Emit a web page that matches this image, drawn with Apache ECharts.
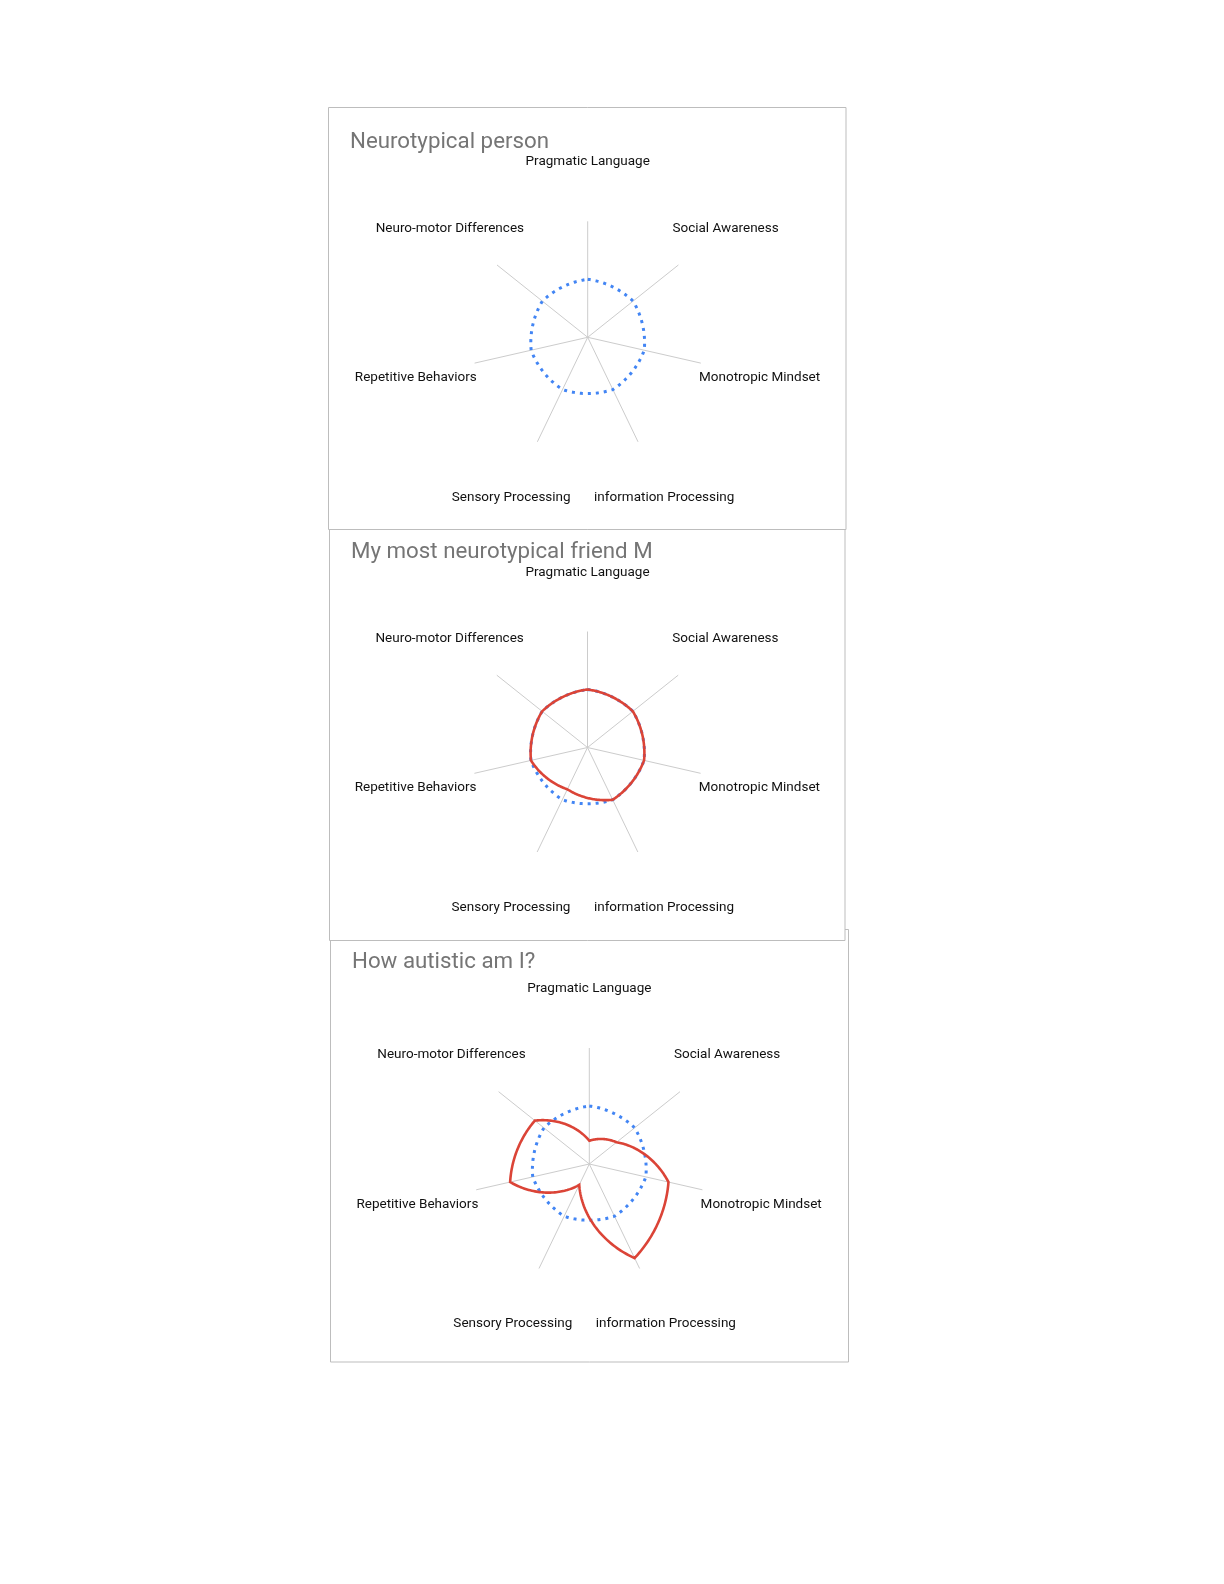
<!DOCTYPE html>
<html>
<head>
<meta charset="utf-8">
<script src="https://cdn.jsdelivr.net/npm/echarts@6/dist/echarts.min.js"></script>
<style>
html,body{margin:0;padding:0;background:#ffffff;}
#chart{width:1224px;height:1584px;}
</style>
</head>
<body>
<div id="chart"></div>
<script>
// ---- data ----
const categories = [
  'Pragmatic Language',
  'Social Awareness',
  'Monotropic Mindset',
  'information Processing',
  'Sensory Processing',
  'Repetitive Behaviors',
  'Neuro-motor Differences'
];
const chartTitles = ['Neurotypical person', 'My most neurotypical friend M', 'How autistic am I?'];
const neurotypicalValues = [5, 5, 5, 5, 5, 5, 5];
const friendMValues = [5, 5, 5, 5, 4, 5, 5];
const myValues = [2, 3, 7, 9, 2, 7, 6];
const scaleMax = 10;

// ---- layout / style ----
const BLUE = '#4285F4';
const RED = '#DB4437';
const panels = [
  { box: [328.5, 107.5, 517.5, 422], center: [587.7, 337.3], title: [350, 131.5], z: 0.6 },
  { box: [329.5, 529.5, 515.5, 411], center: [587.5, 747.5], title: [351, 541.5], z: 0.5 },
  { box: [330.5, 929.5, 518, 432.5], center: [589.3, 1164], title: [352, 951.5], z: 0.4 }
];
const RADIUS = 116;
const LABEL_R = scaleMax * 1.52;
const STEPS = 48;
const CURVE_W = 0.7; // blend between polar sweep and straight chord

function shapeSeries(polarIndex, values, color, dashed, z) {
  return {
    type: 'custom',
    coordinateSystem: 'polar',
    polarIndex: polarIndex,
    silent: true,
    z: z,
    data: values.map((v, i) => [v, i]),
    renderItem: function (params, api) {
      if (params.dataIndexInside !== 0) return null;
      const n = params.dataInsideLength;
      const pts = [];
      for (let i = 0; i < n; i++) {
        const r0 = api.value(0, i), a0 = api.value(1, i);
        const j = (i + 1) % n;
        const r1 = api.value(0, j);
        const a1 = (j === 0) ? api.value(1, 0) + n : api.value(1, j);
        const p0 = api.coord([r0, a0]);
        const p1 = api.coord([r1, a1]);
        for (let s = 0; s < STEPS; s++) {
          const t = s / STEPS;
          const sp = api.coord([r0 + (r1 - r0) * t, a0 + (a1 - a0) * t]);
          const cx = p0[0] + (p1[0] - p0[0]) * t;
          const cy = p0[1] + (p1[1] - p0[1]) * t;
          pts.push([CURVE_W * sp[0] + (1 - CURVE_W) * cx, CURVE_W * sp[1] + (1 - CURVE_W) * cy]);
        }
      }
      return {
        type: 'polygon',
        shape: { points: pts },
        style: dashed
          ? { fill: 'none', stroke: color, lineWidth: 3, lineDash: [3, 5], lineCap: 'butt' }
          : { fill: 'none', stroke: color, lineWidth: 2.6, lineJoin: 'miter' }
      };
    }
  };
}

function labelSeries(polarIndex) {
  return {
    type: 'custom',
    coordinateSystem: 'polar',
    polarIndex: polarIndex,
    silent: true,
    z: 5,
    data: categories.map((c, i) => [LABEL_R, i]),
    renderItem: function (params, api) {
      const p = api.coord([api.value(0), api.value(1)]);
      return {
        type: 'text',
        x: p[0], y: p[1] + 1,
        style: {
          text: categories[api.value(1)],
          align: 'center', verticalAlign: 'middle',
          fill: '#111111',
          font: '13.5px Roboto'
        }
      };
    }
  };
}

const option = {
  backgroundColor: '#ffffff',
  animation: false,
  graphic: {
    elements: panels.map(p => ({
      type: 'rect',
      z: p.z,
      silent: true,
      shape: { x: p.box[0], y: p.box[1], width: p.box[2], height: p.box[3] },
      style: { fill: '#ffffff', stroke: '#bdbdbd', lineWidth: 1 }
    }))
  },
  title: panels.map((p, k) => ({
    text: chartTitles[k],
    left: p.title[0],
    top: p.title[1],
    padding: 0,
    textStyle: { fontFamily: 'Roboto', fontSize: 22.3, fontWeight: 'normal', color: '#757575' }
  })),
  polar: panels.map(p => ({ center: p.center, radius: RADIUS })),
  angleAxis: panels.map((p, k) => ({
    polarIndex: k,
    type: 'value',
    z: 1,
    min: 0,
    max: categories.length,
    interval: 1,
    startAngle: 90,
    clockwise: true,
    axisLine: { show: false },
    axisTick: { show: false },
    axisLabel: { show: false },
    splitLine: { show: true, lineStyle: { color: '#cccccc', width: 1 } }
  })),
  radiusAxis: panels.map((p, k) => ({
    polarIndex: k,
    type: 'value',
    z: 1,
    min: 0,
    max: scaleMax,
    axisLine: { show: false },
    axisTick: { show: false },
    axisLabel: { show: false },
    splitLine: { show: false }
  })),
  series: [
    labelSeries(0), labelSeries(1), labelSeries(2),
    shapeSeries(0, neurotypicalValues, BLUE, true, 3),
    shapeSeries(1, neurotypicalValues, BLUE, true, 3),
    shapeSeries(1, friendMValues, RED, false, 4),
    shapeSeries(2, neurotypicalValues, BLUE, true, 3),
    shapeSeries(2, myValues, RED, false, 4)
  ]
};

const chart = echarts.init(document.getElementById('chart'), null, { renderer: 'canvas' });
chart.setOption(option);
</script>
</body>
</html>
